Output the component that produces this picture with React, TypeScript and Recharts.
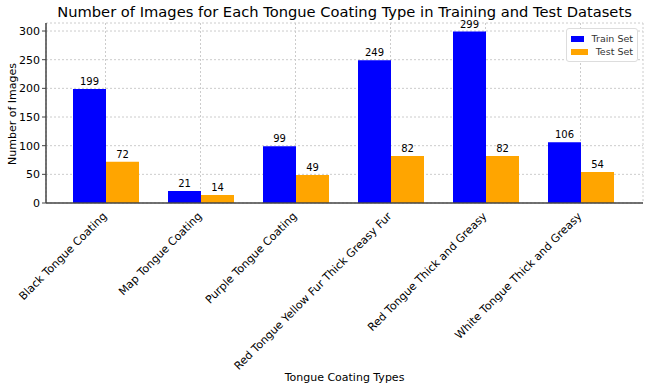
import { BarChart, Bar, XAxis, YAxis, CartesianGrid, LabelList } from 'recharts';

const categories = [
  'Black Tongue Coating',
  'Map Tongue Coating',
  'Purple Tongue Coating',
  'Red Tongue Yellow Fur Thick Greasy Fur',
  'Red Tongue Thick and Greasy',
  'White Tongue Thick and Greasy',
];
const trainCounts = [199, 21, 99, 249, 299, 106];
const testCounts = [72, 14, 49, 82, 82, 54];
const yTicks = [0, 50, 100, 150, 200, 250, 300];
const seriesNames = ['Train Set', 'Test Set'];
const seriesColors = ['#0000ff', '#ffa500'];

const data = categories.map((name, i) => ({ name, train: trainCounts[i], test: testCounts[i] }));

const font = '"DejaVu Sans", sans-serif';

const RotatedTick = (props: any) => {
  const { x, y, payload } = props;
  return (
    <g transform={`translate(${x - 1},${y + 3})`}>
      <text transform="rotate(-45)" textAnchor="end" fontSize={11} fill="#000" fontFamily={font} dy={4}>
        {payload.value}
      </text>
    </g>
  );
};

export default function App() {
  return (
    <div style={{ position: 'absolute', left: 0, top: 0, width: 650, height: 388, background: '#fff', fontFamily: font }}>
      <div
        style={{
          position: 'absolute',
          top: 3,
          left: 46,
          width: 597,
          textAlign: 'center',
          fontSize: 14.7,
          whiteSpace: 'nowrap',
          color: '#000',
        }}
      >
        Number of Images for Each Tongue Coating Type in Training and Test Datasets
      </div>
      <div
        style={{
          position: 'absolute',
          left: 12,
          top: 114,
          transform: 'translate(-50%, -50%) rotate(-90deg)',
          fontSize: 11,
          whiteSpace: 'nowrap',
          color: '#000',
        }}
      >
        Number of Images
      </div>
      <BarChart
        width={650}
        height={388}
        data={data}
        margin={{ top: 23, right: 7, left: 0, bottom: 0 }}
        barSize={33}
        barGap={0}
      >
        <CartesianGrid stroke="#cccccc" strokeDasharray="2 2" />
        <XAxis
          dataKey="name"
          height={185}
          interval={0}
          padding={{ left: 12, right: 15 }}
          tick={<RotatedTick />}
          tickLine={false}
          axisLine={{ stroke: '#444', strokeWidth: 1.5 }}
          label={{ value: 'Tongue Coating Types', position: 'insideBottom', offset: 7, fontSize: 11, fill: '#000', fontFamily: font }}
        />
        <YAxis
          width={46}
          domain={[0, 314]}
          ticks={yTicks}
          tickSize={4}
          tick={{ fontSize: 11, fill: '#000', fontFamily: font }}
          tickLine={{ stroke: '#444' }}
          axisLine={{ stroke: '#444', strokeWidth: 1.5 }}
        />
        <Bar dataKey="train" name={seriesNames[0]} fill={seriesColors[0]} isAnimationActive={false}>
          <LabelList dataKey="train" position="top" offset={4} fontSize={10} fill="#000" fontFamily={font} />
        </Bar>
        <Bar dataKey="test" name={seriesNames[1]} fill={seriesColors[1]} isAnimationActive={false}>
          <LabelList dataKey="test" position="top" offset={4} fontSize={10} fill="#000" fontFamily={font} />
        </Bar>
      </BarChart>
      <div
        style={{
          position: 'absolute',
          top: 28,
          left: 566,
          width: 62,
          border: '1px solid #ddd',
          borderRadius: 3,
          background: '#fff',
          padding: '3px 4px',
          fontSize: 9.5,
          color: '#333',
          whiteSpace: 'nowrap',
        }}
      >
        {seriesNames.map((label, i) => (
          <div key={label} style={{ display: 'flex', alignItems: 'center', height: 13 }}>
            <span style={{ display: 'inline-block', width: 18, height: 6, background: seriesColors[i], marginRight: 8 }} />
            {label}
          </div>
        ))}
      </div>
    </div>
  );
}
